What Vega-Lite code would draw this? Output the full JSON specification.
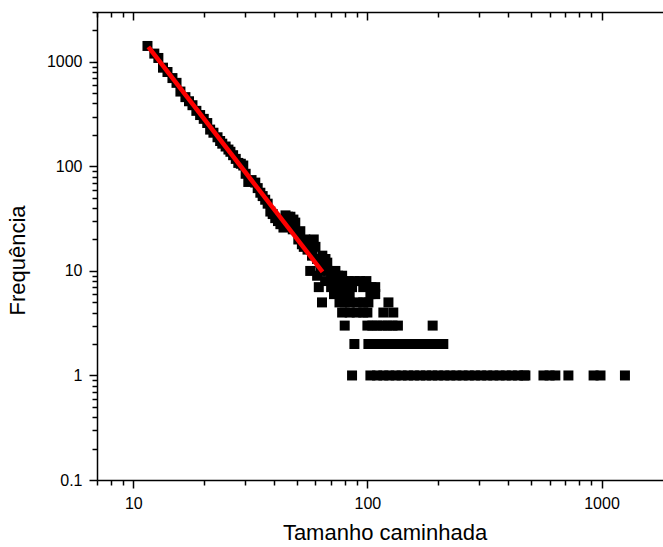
{
 "$schema": "https://vega.github.io/schema/vega-lite/v6.json",
 "autosize": "none",
 "width": 575,
 "height": 468,
 "padding": {"left": 97, "top": 12, "right": -9, "bottom": 67},
 "background": "white",
 "config": {
  "view": {"stroke": null},
  "axis": {"labelFont": "Liberation Sans", "titleFont": "Liberation Sans", "labelFontSize": 16, "titleFontSize": 22, "titleFontWeight": "normal", "labelColor": "black", "titleColor": "black", "domainColor": "black", "tickColor": "black", "domainWidth": 1.5, "tickWidth": 1.5, "grid": false}
 },
 "datasets": {
  "pts": [
   {"x": 11.5, "f": 1420}, {"x": 12.3, "f": 1200}, {"x": 12.8, "f": 1090}, {"x": 13.4, "f": 880}, {"x": 14, "f": 800}, {"x": 14.7, "f": 700}, {"x": 15.3, "f": 630}, {"x": 15.9, "f": 520}, {"x": 16.7, "f": 460}, {"x": 17.3, "f": 420}, {"x": 17.9, "f": 385}, {"x": 18.6, "f": 340}, {"x": 19.3, "f": 310}, {"x": 20, "f": 285}, {"x": 20.7, "f": 260}, {"x": 21.3, "f": 225}, {"x": 22, "f": 210}, {"x": 22.9, "f": 190}, {"x": 23.5, "f": 175}, {"x": 24, "f": 165}, {"x": 24.8, "f": 155}, {"x": 25.5, "f": 145}, {"x": 26, "f": 138}, {"x": 26.7, "f": 128}, {"x": 27.4, "f": 118}, {"x": 28.1, "f": 108}, {"x": 28.8, "f": 106}, {"x": 29.5, "f": 102}, {"x": 30.2, "f": 85}, {"x": 31, "f": 71}, {"x": 32, "f": 74}, {"x": 33.2, "f": 70}, {"x": 34, "f": 62}, {"x": 34.9, "f": 56}, {"x": 35.7, "f": 52}, {"x": 36.6, "f": 48}, {"x": 37.5, "f": 44}, {"x": 38.5, "f": 37}, {"x": 39.4, "f": 35}, {"x": 40.4, "f": 32}, {"x": 41.5, "f": 30}, {"x": 42.5, "f": 28}, {"x": 43.8, "f": 26}, {"x": 44.7, "f": 34}, {"x": 45.8, "f": 33}, {"x": 46.9, "f": 33}, {"x": 48.3, "f": 31}, {"x": 49.2, "f": 29}, {"x": 48, "f": 25}, {"x": 46, "f": 28},
   {"x": 50.7, "f": 20}, {"x": 51.7, "f": 24}, {"x": 52.5, "f": 18}, {"x": 53.5, "f": 17}, {"x": 54.3, "f": 20}, {"x": 55.5, "f": 16}, {"x": 57.1, "f": 18}, {"x": 58, "f": 14}, {"x": 59, "f": 20}, {"x": 60, "f": 17}, {"x": 61, "f": 13}, {"x": 63, "f": 12}, {"x": 64.2, "f": 14}, {"x": 65, "f": 11}, {"x": 66.2, "f": 13}, {"x": 67.4, "f": 12},
   {"x": 57, "f": 10}, {"x": 63, "f": 10}, {"x": 68, "f": 10}, {"x": 73, "f": 10},
   {"x": 61, "f": 9}, {"x": 70, "f": 9}, {"x": 75, "f": 9}, {"x": 78, "f": 9},
   {"x": 66, "f": 8}, {"x": 72, "f": 8}, {"x": 79, "f": 8}, {"x": 83, "f": 8}, {"x": 88, "f": 8}, {"x": 93, "f": 8}, {"x": 99, "f": 8},
   {"x": 62, "f": 7}, {"x": 70, "f": 7}, {"x": 76, "f": 7}, {"x": 82, "f": 7}, {"x": 86, "f": 7}, {"x": 96, "f": 7}, {"x": 104, "f": 7}, {"x": 108, "f": 7},
   {"x": 72, "f": 6}, {"x": 78, "f": 6}, {"x": 84, "f": 6}, {"x": 103, "f": 6}, {"x": 108, "f": 6},
   {"x": 64, "f": 5}, {"x": 76, "f": 5}, {"x": 80, "f": 5}, {"x": 84, "f": 5}, {"x": 91, "f": 5}, {"x": 96, "f": 5}, {"x": 101, "f": 5}, {"x": 123, "f": 5},
   {"x": 78, "f": 4}, {"x": 84, "f": 4}, {"x": 90, "f": 4}, {"x": 96, "f": 4}, {"x": 100, "f": 4}, {"x": 117, "f": 4}, {"x": 129, "f": 4},
   {"x": 80, "f": 3}, {"x": 100, "f": 3}, {"x": 105, "f": 3}, {"x": 110, "f": 3}, {"x": 116, "f": 3}, {"x": 122, "f": 3}, {"x": 128, "f": 3}, {"x": 135, "f": 3}, {"x": 190, "f": 3},
   {"x": 88, "f": 2}, {"x": 101, "f": 2}, {"x": 107, "f": 2}, {"x": 113, "f": 2}, {"x": 119, "f": 2}, {"x": 126, "f": 2}, {"x": 133, "f": 2}, {"x": 140, "f": 2}, {"x": 148, "f": 2}, {"x": 156, "f": 2}, {"x": 165, "f": 2}, {"x": 174, "f": 2}, {"x": 183, "f": 2}, {"x": 193, "f": 2}, {"x": 203, "f": 2}, {"x": 211, "f": 2},
   {"x": 86, "f": 1}, {"x": 103, "f": 1}, {"x": 110, "f": 1}, {"x": 117, "f": 1}, {"x": 124, "f": 1}, {"x": 132, "f": 1}, {"x": 140, "f": 1}, {"x": 149, "f": 1}, {"x": 158, "f": 1}, {"x": 168, "f": 1}, {"x": 178, "f": 1}, {"x": 189, "f": 1}, {"x": 200, "f": 1}, {"x": 213, "f": 1}, {"x": 226, "f": 1}, {"x": 240, "f": 1}, {"x": 255, "f": 1}, {"x": 271, "f": 1}, {"x": 288, "f": 1}, {"x": 306, "f": 1}, {"x": 325, "f": 1}, {"x": 345, "f": 1}, {"x": 367, "f": 1}, {"x": 390, "f": 1}, {"x": 414, "f": 1}, {"x": 440, "f": 1}, {"x": 467, "f": 1}, {"x": 473, "f": 1},
   {"x": 565, "f": 1}, {"x": 600, "f": 1}, {"x": 635, "f": 1}, {"x": 722, "f": 1}, {"x": 925, "f": 1}, {"x": 990, "f": 1}, {"x": 1259, "f": 1}
  ],
  "fit": [{"x": 11.6, "f": 1390}, {"x": 64.3, "f": 9.8}]
 },
 "layer": [
  {
   "data": {"name": "pts"},
   "mark": {"type": "point", "shape": "square", "filled": true, "color": "black", "size": 100, "opacity": 1, "strokeWidth": 0},
   "encoding": {
    "x": {"field": "x", "type": "quantitative", "scale": {"type": "log", "domain": [7, 2000], "nice": false},
     "axis": {"orient": "bottom", "values": [7,8,9,10,20,30,40,50,60,70,80,90,100,200,300,400,500,600,700,800,900,1000,2000],
      "tickSize": {"condition": {"test": "datum.value == 0.1 || datum.value == 1 || datum.value == 10 || datum.value == 100 || datum.value == 1000", "value": 8}, "value": 5},
      "labelExpr": "(datum.value == 10 || datum.value == 100 || datum.value == 1000) ? format(datum.value, '~g') : ''",
      "labelPadding": 7, "labelOverlap": false, "labelFlush": false, "title": "Tamanho caminhada", "titlePadding": 11}},
    "y": {"field": "f", "type": "quantitative", "scale": {"type": "log", "domain": [0.1, 3000], "nice": false},
     "axis": {"orient": "left", "values": [0.1,0.2,0.3,0.4,0.5,0.6,0.7,0.8,0.9,1,2,3,4,5,6,7,8,9,10,20,30,40,50,60,70,80,90,100,200,300,400,500,600,700,800,900,1000,2000,3000],
      "tickSize": {"condition": {"test": "datum.value == 0.1 || datum.value == 1 || datum.value == 10 || datum.value == 100 || datum.value == 1000", "value": 8}, "value": 5},
      "labelExpr": "(datum.value == 0.1 || datum.value == 1 || datum.value == 10 || datum.value == 100 || datum.value == 1000) ? format(datum.value, '~g') : ''",
      "labelPadding": 7, "labelOverlap": false, "labelFlush": false, "title": "Frequência", "titlePadding": 17, "titleY": 248}}
   }
  },
  {
   "data": {"name": "fit"},
   "mark": {"type": "line", "color": "#ff0000", "strokeWidth": 4.5},
   "encoding": {
    "x": {"field": "x", "type": "quantitative", "scale": {"type": "log", "domain": [7, 2000], "nice": false},
     "axis": {"orient": "top", "values": [7,8,9,10,20,30,40,50,60,70,80,90,100,200,300,400,500,600,700,800,900,1000,2000],
      "tickSize": {"condition": {"test": "datum.value == 10 || datum.value == 100 || datum.value == 1000", "value": -8}, "value": -5},
      "labels": false, "title": null}},
    "y": {"field": "f", "type": "quantitative", "scale": {"type": "log", "domain": [0.1, 3000], "nice": false},
     "axis": {"orient": "right", "values": [0.1,0.2,0.3,0.4,0.5,0.6,0.7,0.8,0.9,1,2,3,4,5,6,7,8,9,10,20,30,40,50,60,70,80,90,100,200,300,400,500,600,700,800,900,1000,2000,3000],
      "tickSize": {"condition": {"test": "datum.value == 0.1 || datum.value == 1 || datum.value == 10 || datum.value == 100 || datum.value == 1000", "value": -8}, "value": -5},
      "labels": false, "title": null}}
   }
  }
 ],
 "resolve": {"axis": {"x": "independent", "y": "independent"}}
}
